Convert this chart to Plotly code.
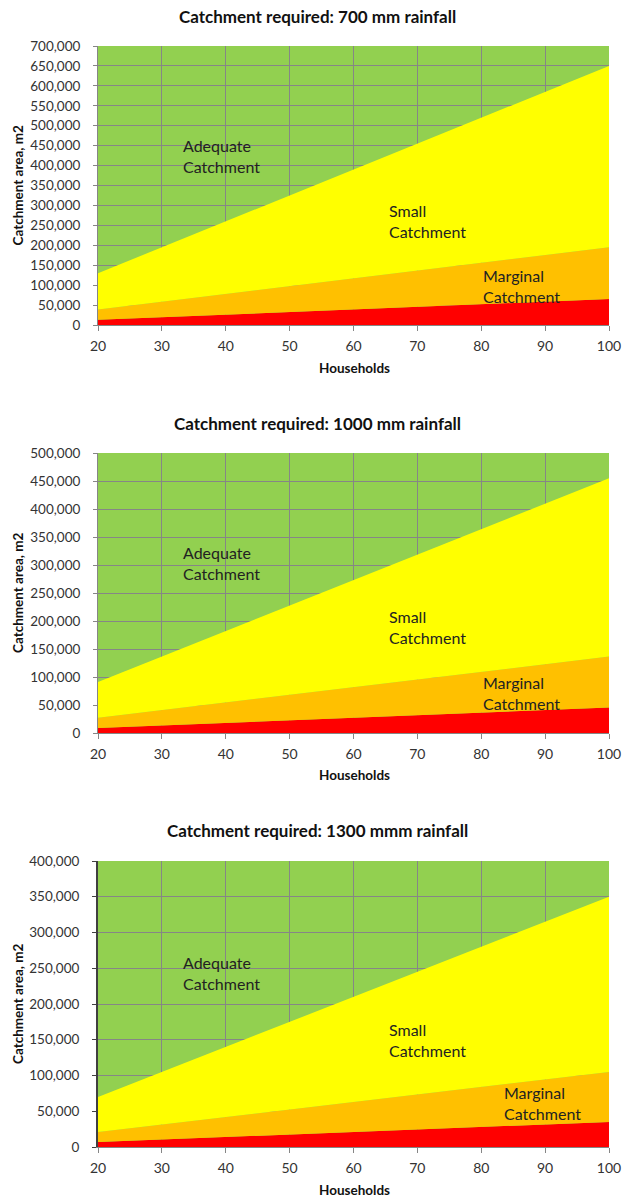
import plotly.graph_objects as go

# Households on the x axis
households = [20, 30, 40, 50, 60, 70, 80, 90, 100]

# Upper boundary of each catchment band (m2), 700 mm rainfall
red_700 = [13000, 19500, 26000, 32500, 39000, 45500, 52000, 58500, 65000]
orange_700 = [39000, 58500, 78000, 97500, 117000, 136500, 156000, 175500, 195000]
yellow_700 = [130000, 195000, 260000, 325000, 390000, 455000, 520000, 585000, 650000]

# 1000 mm rainfall
red_1000 = [9000, 13600, 18200, 22800, 27300, 31900, 36400, 41000, 45500]
orange_1000 = [27300, 41000, 54600, 68300, 81900, 95600, 109200, 122900, 136500]
yellow_1000 = [91000, 136500, 182000, 227500, 273000, 318500, 364000, 409500, 455000]

# 1300 mm rainfall
red_1300 = [7000, 10500, 14000, 17500, 21000, 24500, 28000, 31500, 35000]
orange_1300 = [21000, 31500, 42000, 52500, 63000, 73500, 84000, 94500, 105000]
yellow_1300 = [70000, 105000, 140000, 175000, 210000, 245000, 280000, 315000, 350000]

titles = [
    "Catchment required: 700 mm rainfall",
    "Catchment required: 1000 mm rainfall",
    "Catchment required: 1300 mmm rainfall",
]
y_max = [700000, 500000, 400000]
band_labels = ["Adequate<br>Catchment", "Small<br>Catchment", "Marginal<br>Catchment"]
label_pos = [
    [(33.0, 424000), (65.2, 260000), (80.0, 99000)],
    [(33.0, 303000), (65.2, 189000), (80.0, 72000)],
    [(33.0, 243000), (65.2, 150000), (83.3, 62000)],
]

W, H = 633, 1200
FONT = "Lato"
GREEN = "#92D050"
YELLOW = "#FFFF00"
ORANGE = "#FFC000"
RED = "#FF0000"
GRID = "#868686"

# pixel layout of each panel: (plot top, plot bottom, title y, axis-title y)
panels = [
    (46, 325, 17, 368),
    (453, 733, 423, 775),
    (861, 1147, 830, 1190),
]
x_left, x_right = 98, 609

series = [
    (red_700, orange_700, yellow_700),
    (red_1000, orange_1000, yellow_1000),
    (red_1300, orange_1300, yellow_1300),
]

fig = go.Figure()
annotations = []

for i, ((red, orange, yellow), (top, bottom, ty, xty)) in enumerate(zip(series, panels)):
    n = "" if i == 0 else str(i + 1)
    xa, ya = "x" + n, "y" + n
    for vals, color, fill in ((red, RED, "tozeroy"), (orange, ORANGE, "tonexty"), (yellow, YELLOW, "tonexty")):
        fig.add_trace(go.Scatter(
            x=households, y=vals, xaxis=xa, yaxis=ya, mode="lines",
            line=dict(width=0, color=color), fill=fill, fillcolor=color,
            showlegend=False, hoverinfo="skip",
        ))

    axis_line = "#404040" if i == 2 else GRID
    axis_w = 2 if i == 2 else 1
    fig.layout["xaxis" + n] = dict(
        domain=[x_left / W, x_right / W], anchor=ya, range=[20, 100],
        tickvals=households, ticks="outside", ticklen=5, tickcolor=GRID,
        ticklabelstandoff=3, automargin=False,
        showgrid=True, gridcolor=GRID, gridwidth=1, zeroline=False,
        showline=True, linecolor=GRID, linewidth=1,
        tickfont=dict(family=FONT, size=14, color="#333333"),
    )
    fig.layout["yaxis" + n] = dict(
        domain=[1 - bottom / H, 1 - top / H], anchor=xa, range=[0, y_max[i]],
        dtick=50000, tickformat=",d", ticks="outside", ticklen=4, tickcolor=axis_line,
        ticklabelstandoff=10, automargin=False,
        showgrid=True, gridcolor=GRID, gridwidth=1, zeroline=False,
        showline=True, linecolor=axis_line, linewidth=axis_w,
        tickfont=dict(family=FONT, size=13.5, color="#333333"),
    )

    annotations.append(dict(
        text="<b>" + titles[i] + "</b>", xref="paper", yref="paper",
        x=317 / W, y=1 - ty / H, showarrow=False,
        font=dict(family=FONT, size=17, color="#111111"),
        xanchor="center", yanchor="middle",
    ))
    annotations.append(dict(
        text="<b>Households</b>", xref="paper", yref="paper",
        x=354 / W, y=1 - xty / H, showarrow=False,
        font=dict(family=FONT, size=13.5, color="#111111"),
        xanchor="center", yanchor="middle",
    ))
    annotations.append(dict(
        text="<b>Catchment area, m2</b>", xref="paper", yref="paper",
        x=18 / W, y=1 - (top + bottom) / 2 / H, showarrow=False, textangle=-90,
        font=dict(family=FONT, size=13.5, color="#111111"),
        xanchor="center", yanchor="middle",
    ))
    for (lx, ly), txt in zip(label_pos[i], band_labels):
        annotations.append(dict(
            text=txt, xref=xa, yref=ya, x=lx, y=ly, showarrow=False,
            xanchor="left", yanchor="middle", align="left",
            font=dict(family=FONT, size=16, color="#222222"),
        ))

fig.update_layout(
    width=W, height=H, margin=dict(l=0, r=0, t=0, b=0),
    paper_bgcolor="white", plot_bgcolor=GREEN,
    annotations=annotations,
)

fig.write_html("out.html")
